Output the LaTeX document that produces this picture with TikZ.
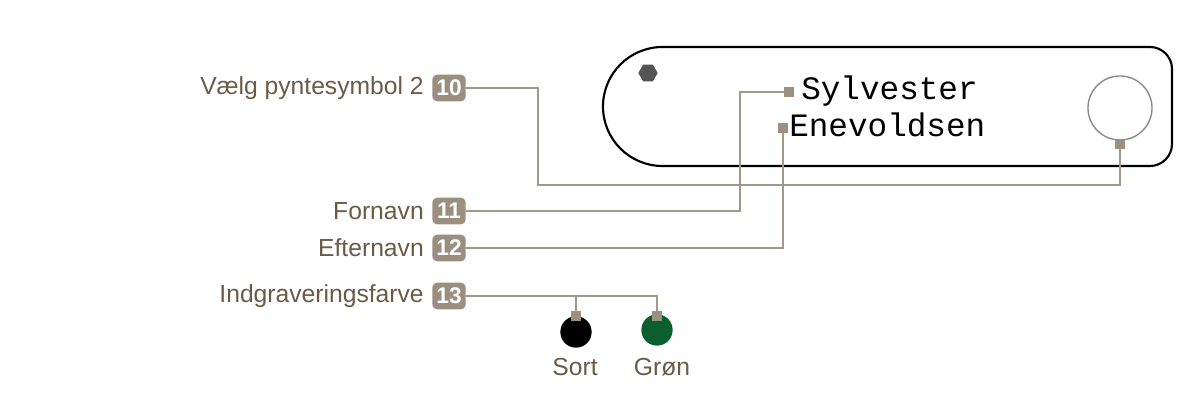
\documentclass[tikz,border=0pt]{standalone}
\usepackage{fontspec}
\setmainfont{Liberation Sans}
\newfontfamily\monofont{Liberation Mono}
\usetikzlibrary{shapes.geometric}
\definecolor{lbl}{HTML}{6B5A44}
\definecolor{badge}{HTML}{9B8F80}
\definecolor{wire}{HTML}{A39887}
\definecolor{grn}{HTML}{0B5E2E}
\begin{document}
\begin{tikzpicture}[x=0.75pt,y=-0.75pt,
  lab/.style={text=lbl,font=\fontsize{18.5}{22}\selectfont,anchor=east,inner sep=0pt},
  bdg/.style={fill=badge,rounded corners=3.5pt,text=white,font=\bfseries\fontsize{17}{19}\selectfont,minimum width=25pt,minimum height=20pt,inner sep=0pt},
  wr/.style={draw=wire,line width=0.9pt},
  sq/.style={fill=badge,minimum size=7.5pt,inner sep=0pt},
  eng/.style={font=\monofont\fontsize{24.5}{28}\selectfont,anchor=base west,inner sep=0pt}]
\useasboundingbox (0,0) rectangle (1200,413);
% plate
\draw[line width=1.6pt] (830,47) [rounded corners=16.5pt] -- (1172,47) -- (1172,166) [rounded corners=44.6pt] -- (603,166) -- (603,47) -- cycle;
\node[regular polygon,regular polygon sides=6,fill=black!67,minimum size=14.5pt,inner sep=0pt] (hex) at (648,73) {};
\node[circle,draw=black!47,line width=1pt,minimum size=48pt,inner sep=0pt] (ring) at (1120,108) {};
\node[eng] (fn) at (801,100) {Sylvester};
\node[eng] (ln) at (789,137) {Enevoldsen};
% labels
\node[bdg] (b10) at (449,88) {10};
\node[lab] (l10) at (424,88) {Vælg pyntesymbol 2};
\node[bdg] (b11) at (449,211) {11};
\node[lab] (l11) at (424,211) {Fornavn};
\node[bdg] (b12) at (449,248) {12};
\node[lab] (l12) at (424,248) {Efternavn};
\node[bdg] (b13) at (449,296) {13};
\node[lab] (l13) at (424,296) {Indgraveringsfarve};
% targets
\node[sq] (s10) at (1120,144) {};
\node[sq] (s11) at (789,92) {};
\node[sq] (s12) at (783,128) {};
\node[circle,fill=black,minimum size=23.5pt,inner sep=0pt] (cblack) at (576,332) {};
\node[circle,fill=grn,minimum size=23.5pt,inner sep=0pt] (cgreen) at (657,330) {};
\node[sq] (s13a) at (576,316) {};
\node[sq] (s13b) at (657,316) {};
\node[text=lbl,font=\fontsize{18.5}{22}\selectfont] (tsort) at (575,367) {Sort};
\node[text=lbl,font=\fontsize{18.5}{22}\selectfont] (tgron) at (662,367) {Grøn};
% wires
\draw[wr] (b10.east) -- (538,88) -- (538,185) -| (s10.south);
\draw[wr] (b11.east) -| (740,92) -- (s11.west);
\draw[wr] (b12.east) -| (s12.south);
\draw[wr] (b13.east) -| (s13b.north);
\draw[wr] (576,296) -- (s13a.north);
\end{tikzpicture}
\end{document}
